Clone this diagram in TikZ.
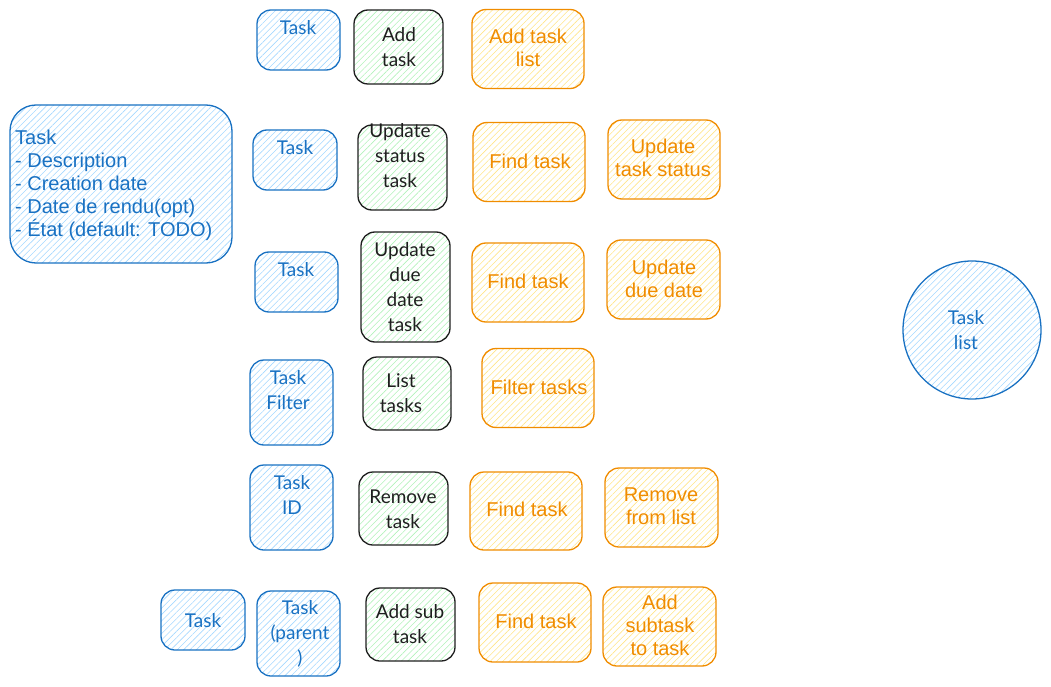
\documentclass[tikz,border=0pt]{standalone}
\usepackage{fontspec}
\setmainfont{Liberation Sans}
\newfontfamily\handfont{Lato}
\usetikzlibrary{patterns.meta}
\definecolor{bstroke}{HTML}{1971C2}
\definecolor{bfill}{HTML}{A5D8FF}
\definecolor{gstroke}{HTML}{1E1E1E}
\definecolor{gfill}{HTML}{B2F2BB}
\definecolor{ostroke}{HTML}{F08C00}
\definecolor{ofill}{HTML}{FFD43B}
\tikzset{
  box/.style={rounded corners=14pt, line width=1.3pt, inner sep=0pt, rectangle},
  hatch/.style={pattern={Lines[angle=45,distance=4.5pt,line width=0.6pt]}, pattern color=#1},
  bluebox/.style={box, draw=bstroke, hatch=bfill},
  greenbox/.style={box, draw=gstroke, hatch=gfill},
  orangebox/.style={box, draw=ostroke, hatch=ofill!60, minimum width=112pt, minimum height=79pt},
  hand/.style={font=\handfont\fontsize{19}{25}\selectfont, align=center, inner sep=0pt},
  bluetxt/.style={hand, text=bstroke},
  greentxt/.style={hand, text=gstroke},
  orangetxt/.style={font=\fontsize{20}{23}\selectfont, align=center, inner sep=0pt, text=ostroke},
}
\begin{document}
\begin{tikzpicture}[x=1pt,y=-1pt]
\useasboundingbox (0,0) rectangle (1051,687);
% big task box
\node[bluebox, rounded corners=26pt, minimum width=222pt, minimum height=158pt] (big) at (121,184) {};
\node[font=\fontsize{20}{23}\selectfont, align=left, text=bstroke, anchor=north west, inner sep=0pt] (bigt) at (15,130)
  {Task\\- Description\\- Creation date\\- Date de rendu(opt)\\- État (default: TODO)};
% blue boxes
\node[bluebox, minimum width=83pt, minimum height=60pt] (b1) at (298.5,40) {};
\node[bluetxt] (b1t) at (298,28) {Task};
\node[bluebox, minimum width=84pt, minimum height=60pt] (b2) at (295,160) {};
\node[bluetxt] (b2t) at (295,148) {Task};
\node[bluebox, minimum width=83pt, minimum height=60pt] (b3) at (296.5,282) {};
\node[bluetxt] (b3t) at (296,270) {Task};
\node[bluebox, minimum width=83pt, minimum height=85pt] (b4) at (291.5,402.5) {};
\node[bluetxt] (b4t) at (288,390.5) {Task\\Filter};
\node[bluebox, minimum width=83pt, minimum height=85pt] (b5) at (291.5,507.5) {};
\node[bluetxt] (b5t) at (292,495) {Task\\ID};
\node[bluebox, minimum width=84pt, minimum height=60pt] (b6) at (203,620) {};
\node[bluetxt] (b6t) at (203,621) {Task};
\node[bluebox, minimum width=83pt, minimum height=85pt] (b7) at (298.5,633.5) {};
\node[bluetxt] (b7t) at (300,634) {Task\\(parent\\)};
% green boxes
\node[greenbox, minimum width=89pt, minimum height=74pt] (g1) at (398.5,47) {};
\node[greentxt] (g1t) at (399,47) {Add\\task};
\node[greenbox, minimum width=89pt, minimum height=85pt] (g2) at (402.5,167.5) {};
\node[greentxt] (g2t) at (400,156) {Update\\status\\task};
\node[greenbox, minimum width=89pt, minimum height=110pt] (g3) at (405.5,287) {};
\node[greentxt] (g3t) at (405,287.5) {Update\\due\\date\\task};
\node[greenbox, minimum width=88pt, minimum height=73pt] (g4) at (407,393.5) {};
\node[greentxt] (g4t) at (401,393.5) {List\\tasks};
\node[greenbox, minimum width=89pt, minimum height=73pt] (g5) at (403.5,508.5) {};
\node[greentxt] (g5t) at (403,509) {Remove\\task};
\node[greenbox, minimum width=89pt, minimum height=73pt] (g6) at (410.5,624.5) {};
\node[greentxt] (g6t) at (410,624.5) {Add sub\\task};
% orange boxes
\node[orangebox] (o1) at (528,49) {};
\node[orangetxt] (o1t) at (528,47.5) {Add task\\list};
\node[orangebox] (o2) at (529,162) {};
\node[orangetxt] (o2t) at (530,161) {Find task};
\node[orangebox] (o3) at (664,159.5) {};
\node[orangetxt] (o3t) at (663,157.5) {Update\\task status};
\node[orangebox] (o4) at (528,282.5) {};
\node[orangetxt] (o4t) at (528,281) {Find task};
\node[orangebox, minimum width=113pt] (o5) at (663.5,279.5) {};
\node[orangetxt] (o5t) at (664,278.5) {Update\\due date};
\node[orangebox] (o6) at (538,388) {};
\node[orangetxt] (o6t) at (539,387) {Filter tasks};
\node[orangebox, minimum height=78pt] (o7) at (526,511) {};
\node[orangetxt] (o7t) at (527,509) {Find task};
\node[orangebox, minimum width=113pt] (o8) at (661.5,507.5) {};
\node[orangetxt] (o8t) at (661,506.5) {Remove\\from list};
\node[orangebox] (o9) at (535,622.5) {};
\node[orangetxt] (o9t) at (536,621) {Find task};
\node[orangebox, minimum width=113pt] (o10) at (659.5,626.5) {};
\node[orangetxt] (o10t) at (660,625) {Add\\subtask\\to task};
% circle
\node[draw=bstroke, line width=1.3pt, hatch=bfill, circle, minimum size=138pt, inner sep=0pt] (tl) at (972,330) {};
\node[bluetxt] (tlt) at (966,330) {Task\\list};
\end{tikzpicture}
\end{document}
